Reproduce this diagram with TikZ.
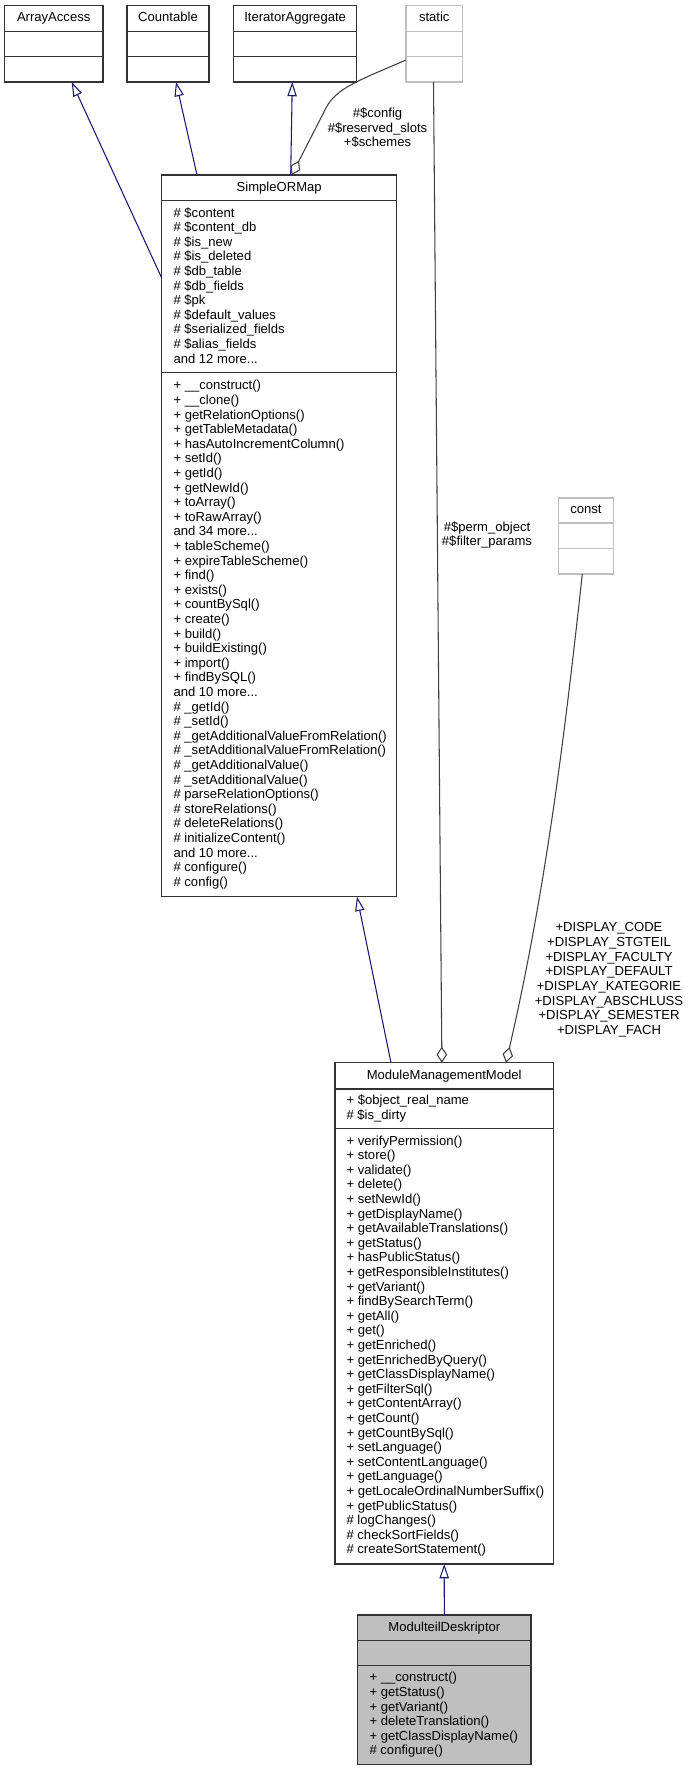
\documentclass[tikz,border=0pt]{standalone}
\usepackage{fontspec}
\setmainfont{Liberation Sans}
\usetikzlibrary{calc,arrows.meta}
\definecolor{inhblue}{HTML}{191970}
\definecolor{aggrgray}{HTML}{404040}
\definecolor{tplgray}{HTML}{BFBFBF}
\newcommand{\membfont}{\fontsize{9.8pt}{11pt}\selectfont}
\newcommand{\andmore}[1]{and #1 more...}
\tikzset{
	cbox/.style 2 args={draw=black!80, line width=1pt, fill=white, inner sep=0pt, outer sep=0pt, anchor=north west,
		minimum width={#1*0.75pt}, minimum height={#2*0.75pt}, text height=7pt, text depth=2pt, font=\membfont},
	member/.style={anchor=base west, inner sep=0pt, font=\membfont},
	elabel/.style={anchor=base, inner sep=0pt, font=\membfont},
	inherit/.style={draw=inhblue, line width=0.8pt, -{Triangle[open, length=10.7pt, width=7pt]}},
	aggr/.style={draw=aggrgray, line width=0.8pt, -{Diamond[open, length=12pt, width=8pt]}}
}

\begin{document}
\begin{tikzpicture}[x=0.75pt, y=-0.75pt]
			%%%%% START %%%%%
			\useasboundingbox (0, 0) rectangle (693, 1771);
			
			% interfaces and templates
			\node[cbox={98.6}{25.6}] (arr) at (4.4, 5.7) {ArrayAccess};
			\node[cbox={98.6}{25.4}] (arr-attr) at (arr.south west) {};
			\node[cbox={98.6}{25.3}] (arr-ops) at (arr-attr.south west) {};
			
			\node[cbox={82}{25.6}] (cnt) at (127, 5.7) {Countable};
			\node[cbox={82}{25.4}] (cnt-attr) at (cnt.south west) {};
			\node[cbox={82}{25.3}] (cnt-ops) at (cnt-attr.south west) {};
			
			\node[cbox={123}{25.6}] (ia) at (233.6, 5.7) {IteratorAggregate};
			\node[cbox={123}{25.4}] (ia-attr) at (ia.south west) {};
			\node[cbox={123}{25.3}] (ia-ops) at (ia-attr.south west) {};
			
			\node[cbox={56.5}{25.6}, draw=tplgray] (stat) at (406, 5.7) {static};
			\node[cbox={56.5}{25.4}, draw=tplgray] (stat-attr) at (stat.south west) {};
			\node[cbox={56.5}{25.3}, draw=tplgray] (stat-ops) at (stat-attr.south west) {};
			
			\node[cbox={54.6}{25}, draw=tplgray] (const) at (558.7, 498) {const};
			\node[cbox={54.6}{25.7}, draw=tplgray] (const-attr) at (const.south west) {};
			\node[cbox={54.6}{25.3}, draw=tplgray] (const-ops) at (const-attr.south west) {};
			
			% SimpleORMap
			\node[cbox={235}{25.7}] (sorm) at (161.7, 175) {SimpleORMap};
			\node[cbox={235}{172}] (sorm-attr) at (sorm.south west) {};
			\node[cbox={235}{524}] (sorm-ops) at (sorm-attr.south west) {};
			\foreach \m [count=\i] in {\# \$content, \# \$content\_db, \# \$is\_new, \# \$is\_deleted, \# \$db\_table,
				\# \$db\_fields, \# \$pk, \# \$default\_values, \# \$serialized\_fields, \# \$alias\_fields, \andmore{12}}
				\node[member] (sorm-a\i) at ($(sorm-attr.west)+(11.6, {(\i-6)*14.6+3.35})$) {\m};
			\foreach \m [count=\i] in {+ \_\_construct(), + \_\_clone(), + getRelationOptions(), + getTableMetadata(),
				+ hasAutoIncrementColumn(), + setId(), + getId(), + getNewId(), + toArray(), + toRawArray(), \andmore{34},
				+ tableScheme(), + expireTableScheme(), + find(), + exists(), + countBySql(), + create(), + build(),
				+ buildExisting(), + import(), + findBySQL(), \andmore{10}, \# \_getId(), \# \_setId(),
				\# \_getAdditionalValueFromRelation(), \# \_setAdditionalValueFromRelation(), \# \_getAdditionalValue(),
				\# \_setAdditionalValue(), \# parseRelationOptions(), \# storeRelations(), \# deleteRelations(),
				\# initializeContent(), \andmore{10}, \# configure(), \# config()}
				\node[member] (sorm-o\i) at ($(sorm-ops.west)+(11.6, {(\i-18)*14.6+3.35})$) {\m};
			
			% ModuleManagementModel
			\node[cbox={218.3}{26.3}] (mmm) at (335, 1062.7) {ModuleManagementModel};
			\node[cbox={218.3}{39.3}] (mmm-attr) at (mmm.south west) {};
			\node[cbox={218.3}{435.7}] (mmm-ops) at (mmm-attr.south west) {};
			\foreach \m [count=\i] in {+ \$object\_real\_name, \# \$is\_dirty}
				\node[member] (mmm-a\i) at ($(mmm-attr.west)+(11.3, {(\i-1.5)*14.6+3.35})$) {\m};
			\foreach \m [count=\i] in {+ verifyPermission(), + store(), + validate(), + delete(), + setNewId(),
				+ getDisplayName(), + getAvailableTranslations(), + getStatus(), + hasPublicStatus(),
				+ getResponsibleInstitutes(), + getVariant(), + findBySearchTerm(), + getAll(), + get(),
				+ getEnriched(), + getEnrichedByQuery(), + getClassDisplayName(), + getFilterSql(),
				+ getContentArray(), + getCount(), + getCountBySql(), + setLanguage(), + setContentLanguage(),
				+ getLanguage(), + getLocaleOrdinalNumberSuffix(), + getPublicStatus(), \# logChanges(),
				\# checkSortFields(), \# createSortStatement()}
				\node[member] (mmm-o\i) at ($(mmm-ops.west)+(11.3, {(\i-15)*14.6+3.35})$) {\m};
			
			% ModulteilDeskriptor
			\node[cbox={173.3}{25.7}, fill=tplgray] (md) at (357.7, 1615) {ModulteilDeskriptor};
			\node[cbox={173.3}{25}, fill=tplgray] (md-attr) at (md.south west) {};
			\node[cbox={173.3}{98.6}, fill=tplgray] (md-ops) at (md-attr.south west) {};
			\foreach \m [count=\i] in {+ \_\_construct(), + getStatus(), + getVariant(), + deleteTranslation(),
				+ getClassDisplayName(), \# configure()}
				\node[member] (md-o\i) at ($(md-ops.west)+(11.6, {(\i-3.5)*14.6+3.35})$) {\m};
			
			% inheritance
			\draw[inherit] ($(sorm-attr.north west)+(0, 77.3)$) -- ($(arr-ops.south west)+(67.3, 0)$);
			\draw[inherit] ($(sorm.north west)+(35.3, 0)$) -- ($(cnt-ops.south west)+(49, 0)$);
			\draw[inherit] ($(sorm.north west)+(129, 0)$) -- ($(ia-ops.south west)+(58.7, 0)$);
			\draw[inherit] ($(mmm.north west)+(56, 0)$) -- ($(sorm-ops.south west)+(195.3, 0)$);
			\draw[inherit] (md.north) -- (mmm-ops.south);
			
			% aggregation
			\draw[aggr] ($(stat-ops.north west)+(0, 3.3)$) .. controls (360, 80) and (336, 88) .. (326, 108)
				-- ($(sorm.north west)+(130, 0)$);
			\draw[aggr] ($(stat-ops.south west)+(27.5, 0)$) -- ($(mmm.north west)+(106.9, 0)$);
			\draw[aggr] ($(const-ops.south west)+(23.6, 0)$) .. controls (565.2, 731) and (546.2, 888)
				.. ($(mmm.north west)+(171, 0)$);
			
			% edge labels
			\foreach \m [count=\i] in {\#\$config, \#\$reserved\_slots, +\$schemes}
				\node[elabel] (cfg-l\i) at (377.5, {117.3+(\i-1)*14.7}) {\m};
			\foreach \m [count=\i] in {\#\$perm\_object, \#\$filter\_params}
				\node[elabel] (perm-l\i) at (487, {531+(\i-1)*14.7}) {\m};
			\foreach \m [count=\i] in {+DISPLAY\_CODE, +DISPLAY\_STGTEIL, +DISPLAY\_FACULTY, +DISPLAY\_DEFAULT,
				+DISPLAY\_KATEGORIE, +DISPLAY\_ABSCHLUSS, +DISPLAY\_SEMESTER, +DISPLAY\_FACH}
				\node[elabel] (disp-l\i) at (609, {931.7+(\i-1)*14.7}) {\m};
			
			%%%%% END %%%%%
\end{tikzpicture}
\end{document}
